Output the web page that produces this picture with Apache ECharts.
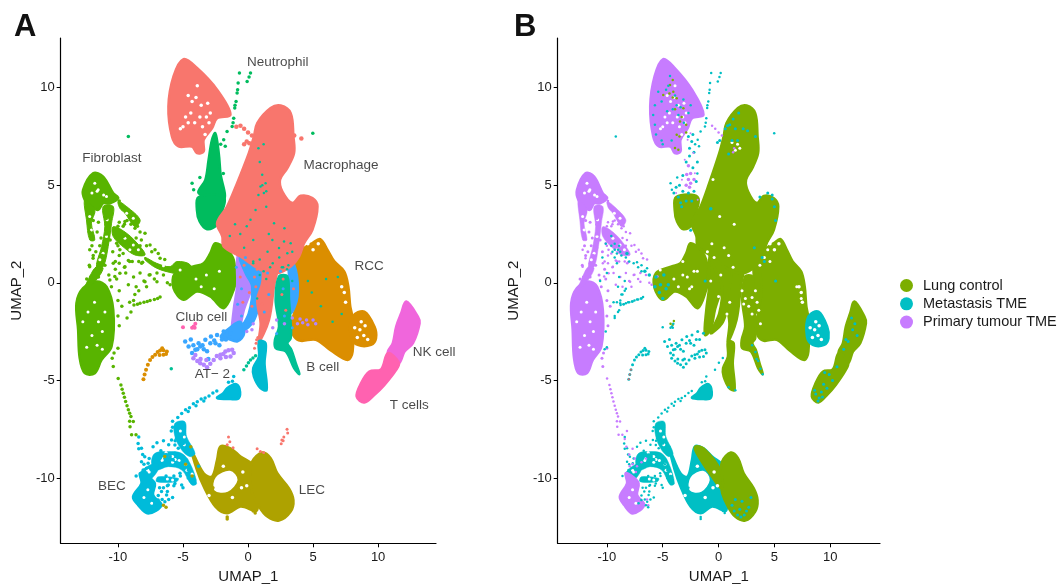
<!DOCTYPE html>
<html><head><meta charset="utf-8">
<script src="https://cdn.jsdelivr.net/npm/echarts@6/dist/echarts.min.js"></script>
<style>html,body{margin:0;background:#fff}#c{width:1064px;height:585px}</style></head>
<body><div id="c"></div>
<script>
// ---- tick labels, names
const tickX=[-10,-5,0,5,10];
const tickY=[-10,-5,0,5,10];
const groupNames=['Lung control','Metastasis TME','Primary tumour TME'];
const clusterLabels=[['Neutrophil',2.28,11.28],['Macrophage',7.14,6.05],['Fibroblast',-10.46,6.41],['RCC',9.3,.87],['Club cell',-3.59,-1.79],['AT− 2',-2.74,-4.67],['B cell',5.75,-4.31],['NK cell',14.3,-3.54],['T cells',12.39,-6.26],['BEC',-10.46,-10.41],['LEC',4.9,-10.62]];
// ---- dense cluster outlines (UMAP units)
const lobe=[[-4.96,11.47],[-3.92,11.01],[-2.38,9.9],[-1.35,8.62],[-2.38,8.44],[-2.76,7.93],[-3.41,7.33],[-3.41,6.73],[-3.92,6.65],[-4.31,6.99],[-5.34,6.99],[-5.85,7.5],[-6.12,9.04],[-5.73,10.58]];
const macro=[[2.51,9.09],[3.28,8.7],[3.49,7.5],[3.54,6.65],[3.02,5.88],[2.46,5.28],[2.64,4.68],[3.41,4.09],[4.05,4.46],[4.95,4.34],[5.34,3.91],[4.95,2.72],[4.31,2.03],[3.92,1.35],[3.28,.84],[2.25,.5],[.96,.67],[-.58,1.35],[-1.87,1.86],[-1.98,2.38],[-2.38,3.06],[-1.61,3.91],[-.84,5.11],[.06,6.65],[.45,7.5],[.71,8.19],[1.74,8.96]];
const neutroUpper=[[-2.51,7.67],[-2.25,6.65],[-2.12,5.62],[-1.87,4.26],[-3.8,4.6],[-3.28,5.28],[-3.03,6.31],[-2.77,7.33]];
const neutroLower=[[-1.87,4.4],[-2.12,3.4],[-2.38,2.97],[-3.15,2.75],[-3.72,3.15],[-3.93,3.74],[-3.8,4.4]];
const fibroHead=[[-12.68,4.76],[-11.91,5.62],[-11.14,5.45],[-10.36,4.59],[-9.98,4.34],[-10.62,4.08],[-11.14,4.08],[-11.52,3.74],[-12.04,3.91],[-12.55,4.25]];
const fibroLeftCol=[[-12.55,4.25],[-11.78,3.74],[-12.04,3.06],[-11.78,2.2],[-12.17,2.2],[-12.42,3.23]];
const fibroCenterCol=[[-11.14,3.91],[-10.36,3.91],[-10.49,3.06],[-10.75,1.86],[-11.14,.83],[-11.65,.83],[-11.26,1.86],[-11.01,2.88]];
const fibroRightStrand=[[-9.98,4.17],[-9.33,3.91],[-8.3,3.23],[-8.69,2.88],[-9.46,3.57],[-9.85,3.82]];
const fibroDiagonal=[[-10.36,2.88],[-9.33,2.54],[-8.3,1.86],[-7.92,1.43],[-8.69,1.43],[-9.46,1.77],[-10.36,2.37]];
const fibroLink=[[-7.92,1.31],[-7.02,1],[-5.99,.83],[-5.47,1.09],[-4.44,.92],[-4.44,.32],[-5.73,.49],[-7.02,.75],[-7.92,1.18]];
const fibroLower=[[-11.65,.83],[-11.14,.75],[-11.78,.06],[-12.55,-.33],[-12.17,.32]];
const fibroBody=[[-13.19,-1.04],[-12.68,-.27],[-11.65,.07],[-10.88,-.19],[-10.36,-1.38],[-10.49,-3.26],[-11.26,-3.95],[-11.78,-4.63],[-12.55,-4.63],[-12.94,-3.86],[-13.06,-2.41]];
const fibroMid=[[-2.51,2.03],[-1.61,1.69],[-1.1,1.18],[-.97,.15],[-1.1,-.36],[-1.87,-1.3],[-2.9,-.7],[-3.93,-.44],[-4.96,-.87],[-5.73,-.27],[-5.6,.5],[-4.2,.84],[-3.41,1.01],[-2.9,1.52]];
const rcc=[[5.55,2.24],[6.11,1.69],[6.63,1.1],[7.4,.58],[7.71,-.19],[7.86,-1.21],[8.04,-1.81],[8.04,-3.52],[7.66,-3.95],[6.37,-3.47],[5.21,-2.92],[4.05,-2.97],[3.54,-2.75],[3.3,-2.2],[3.7,-1.2],[3.75,-.7],[3.54,.15],[3.54,1.35],[4.31,1.78],[4.95,2.04]];
const rccLobe=[[8.04,-1.73],[8.94,-1.47],[9.72,-2.24],[9.84,-2.84],[9.46,-3.18],[8.43,-3.18],[7.91,-2.75]];
const purpleCol=[[-.71,1.6],[.32,1.6],[.45,.15],[-.32,-1.38],[-.71,-2.41],[-1.22,-2.67],[-1.1,-1.38],[-.84,-.19]];
const blueCol=[[-.58,1.35],[1.09,1.01],[1.35,-.19],[.84,-1.21],[.32,-2.07],[-.71,-2.58],[.06,-1.56],[.32,-.19],[-.19,.5]];
const blueCol2=[[3.02,1.52],[3.67,.67],[3.8,-.7],[3.28,-1.56],[3.02,-.53],[3.15,.32]];
const blueFoot=[[-.6,-2],[-.3,-2.6],[-.8,-3],[-1.6,-2.85],[-2.1,-2.75],[-1.4,-2.3]];
const salmonPillar=[[1.35,1.52],[2.25,1.01],[1.99,-.19],[1.61,-1.9],[.84,-3.01],[.97,-2.07],[.71,-.87],[1.09,-.02]];
const cyanPillar=[[.84,-3.01],[1.35,-3.09],[1.27,-4.12],[1.43,-5.49],[.96,-5.4],[.45,-4.8],[.4,-4.37],[.84,-3.78]];
const bCell=[[2.38,.32],[3.02,.32],[3.15,-.87],[3.28,-2.07],[3.28,-2.84],[3.02,-3.09],[3.33,-3.43],[3.67,-4.12],[3.95,-4.68],[3.54,-4.37],[2.9,-3.52],[2.12,-3.35],[2.07,-2.92],[2.38,-2.24],[2.12,-.87]];
const nkCell=[[12.16,-.96],[13.06,-1.73],[13.19,-2.07],[12.68,-3.09],[12.03,-3.52],[11.6,-4.1],[10.75,-3.6],[11.13,-3.09],[11.39,-2.24],[11.78,-1.55]];
const tCell=[[11.6,-4.1],[11.39,-4.46],[10.49,-5.23],[9.72,-5.74],[8.94,-6.13],[8.35,-5.83],[8.69,-5.14],[9.33,-4.55],[10.23,-4.43],[10.75,-3.6]];
const lecRight=[[1.09,-8.7],[1.74,-8.99],[2.25,-9.76],[3.15,-10.53],[3.49,-11.13],[3.28,-11.72],[2.38,-12.18],[1.48,-11.98],[.84,-11.47],[.32,-10.78],[.19,-10.1],[.32,-9.16]];
const lecLeft=[[-2.12,-8.39],[-1.35,-8.48],[-.58,-8.9],[.45,-9.42],[.71,-11.64],[-.58,-11.47],[-1.61,-11.81],[-2.51,-11.47],[-3.41,-10.44],[-3.93,-9.59],[-4.31,-8.65],[-3.41,-9.76],[-2.77,-9.93],[-2.38,-9.07]];
const lecHole=[[-2.4,-10],[-1.4,-9.7],[-.9,-10.1],[-1.6,-10.65],[-2.5,-10.6]];
const lecStrip=[[-2.1,-8.4],[-1.34,-8.49],[.16,-9.6],[.3,-10.53],[-.6,-9.93],[-1.95,-8.74]];
const becBlob=[[-8.84,-10.96],[-8.19,-10.28],[-8.32,-9.76],[-7.68,-9.94],[-7.16,-10.28],[-7.29,-10.88],[-6.65,-11.39],[-7.68,-11.82],[-8.45,-11.39]];
const becTopArm=[[-5.62,-7.2],[-4.85,-7.12],[-4.72,-7.88],[-4.07,-8.74],[-4.46,-8.91],[-5.1,-8.57],[-5.62,-7.88]];
const becMidBand=[[-7.16,-8.74],[-6.13,-8.65],[-5.1,-8.74],[-4.46,-9.25],[-3.95,-10.28],[-4.33,-10.36],[-5.1,-9.59],[-6.13,-9.42],[-7.03,-9.59],[-7.42,-9.25]];
const becLeftDiag=[[-8.32,-9.76],[-7.16,-9.25],[-6.91,-9.59],[-7.94,-10.28]];
const becInner=[[-6.91,-9.94],[-5.36,-10.02],[-5.49,-10.19],[-7.03,-10.19]];
const becTip=[[-1.61,-5.4],[-.97,-5.18],[-.66,-5.4],[-.71,-5.91],[-1.35,-5.96],[-2.38,-5.9],[-1.9,-5.65]];
// ---- loose points
const fibroNetLeft=[[-11.9,3.2],[-12.2,2.6],[-11.3,2.3],[-11.5,3.1],[-10.9,3],[-10.9,2.5],[-10.6,2.2],[-10.9,1.8],[-10.4,1.6],[-11.7,1.6],[-12,1.9],[-11.9,1.4],[-12.2,.9],[-11.5,1],[-11,.9],[-10.2,.7],[-11.8,.6],[-12.1,.3],[-11.5,.3],[-10.7,.4],[-10.1,.2],[-9.9,-.4],[-10.5,-.2],[-12,2.3],[-11.6,2.6],[-11.2,1.4],[-12.4,.2],[-10.9,3.3],[-11.4,1.9],[-10,-.9],[-9.7,-1.2],[-10,-1.7],[-9.9,-2.2],[-10.3,-3.6],[-10,-3.35],[-10.44,-3.86],[-10.36,-4.29]];
const fibroNetRight=[[-9.9,4.2],[-9.3,3.2],[-9,3.0],[-8.5,2.9],[-8.3,2.6],[-8.6,2.3],[-8.2,2.2],[-7.8,1.9],[-10,2.9],[-9.6,2.9],[-10,1.9],[-9.9,3.1],[-9.5,3],[-9.6,1.5],[-9.1,1.1],[-8.3,1.9],[-9.5,.8],[-9.4,.5],[-8.8,.3],[-8.3,.5],[-8,.1],[-7.6,.4],[-7,.5],[-6.5,.4],[-8.6,-.2],[-9.2,-.1],[-9.2,1.15],[-8.9,1.1],[-8.4,1.1],[-7.4,1.6],[-6.9,1.5],[-6.4,1.2],[-7.2,.2],[-9.9,1.4],[-10.2,1.1],[-9.9,1],[-7.8,-.2],[-6.2,0],[-8.1,1.05]];
const fibroNetMore=[[-12.17,1.69],[-11.91,1.26],[-12.17,.83],[-10.1,2.03],[-9.85,1.69],[-9.59,2.37],[-9.46,3.14],[-8.69,2.8],[-7.92,2.54],[-7.53,1.94],[-7.15,1.69],[-6.76,1.26],[-10.36,1],[-9.46,.83],[-8.18,1],[-10.62,.15],[-9.85,.49],[-10.24,.32],[-7.92,.06],[-7,.06],[-7.53,.41],[-5.99,-.1],[-5.47,.32]];
const fibroTail=[[-9.98,-4.9],[-9.77,-5.23],[-9.68,-5.45],[-9.59,-5.66],[-9.5,-5.87],[-9.41,-6.08],[-9.3,-6.3],[-9.2,-6.51],[-9.1,-6.68],[-9,-6.85],[-8.82,-7.11],[-9.07,-7.37],[-8.95,-7.79],[-8.61,-7.79],[-9.1,-7.1]];
const fibroStrand=[[-8.77,-1.13],[-8.5,-1.1],[-8.3,-1.04],[-8,-1],[-7.75,-.95],[-7.53,-.9],[-7.2,-.85],[-6.95,-.8],[-6.76,-.73],[-8.7,-.6],[-8.4,-.4],[-9.1,-1],[-9,-1.5],[-9.3,-1.8],[-8.8,-.9]];
const neutroStrand=[[-.66,10.75],[-.76,10.24],[-.84,9.73],[-.92,9.3],[-1.02,8.96],[-1.1,8.44],[-1.22,8.02],[-1.61,7.76],[-1.87,7.33],[-.07,10.32],[.19,10.75],[.08,10.55],[-9.2,7.5],[4.98,7.67],[-4.18,4.77],[-4.3,5.1],[-3.7,5.4],[-1.9,5.6],[-1.75,7],[-2.1,7.1],[-.8,9.9],[-1,9.1],[-1.15,8.2]];
const macroSpurs=[[-.58,8.05],[-.3,7.9],[0,7.7],[.3,7.55],[-.3,7.1],[-.1,7.25],[.1,7.15],[-.9,8],[4.1,7.4],[3.55,7.55]];
const orangeArc=[[-8.04,-4.94],[-7.95,-4.7],[-7.84,-4.46],[-7.7,-4.2],[-7.53,-3.95],[-7.35,-3.8],[-7.14,-3.69],[-6.95,-3.55],[-6.76,-3.47],[-6.5,-3.45],[-6.24,-3.52],[-6.5,-3.69],[-6.8,-3.7],[-6.3,-3.65],[-6.6,-3.35]];
const clubCell=[[-4.18,-2.24],[-4.05,-2.1],[-4.3,-2.3],[-5,-2.27],[-4.1,-2.3]];
const blueLoose=[[-4.83,-3.01],[-4.57,-3.26],[-4.05,-3.43],[-3.67,-3.26],[-3.28,-2.92],[-2.9,-3.09],[-2.38,-2.67],[-1.87,-2.5],[-1.35,-2.58],[-3.15,-3.5],[-3.8,-3.1],[-4.3,-3.6],[-3.5,-3.2],[-2.6,-2.95],[-3.05,-3.9],[-2.2,-3.2],[-4.4,-2.9],[-1.7,-2.9],[-2.85,-2.75],[-4.2,-3.2],[-3.9,-3.4],[-3.4,-3.4],[-2.5,-3.1],[-2,-2.9]];
const purpleLoose=[[-4.2,-3.86],[-3.67,-4.12],[-3.15,-4.32],[-2.64,-3.95],[-2.12,-3.86],[-1.74,-3.52],[-1.22,-3.43],[-1.35,-3.78],[-2.12,-3.69],[-3.9,-4],[-3.4,-4.2],[-2.9,-4.15],[-2.4,-3.75],[-1.9,-3.65],[-1.5,-3.45],[-4.05,-3.7],[-3.2,-3.95],[-3.65,-3.9],[-1.1,-3.6],[-1.7,-3.8]];
const purpleBand=[[3.8,-2.1],[4.2,-2.05],[4.6,-2.15],[5,-1.9],[5.2,-2.1],[2.2,-1.9],[2.8,-2.1],[1.9,-2.3],[.3,-2.4],[-.1,-2.5],[.4,-2.1],[3.4,-1.8],[4,-1.85],[4.5,-1.9]];
const bCellBranch=[[.58,-3.74],[.38,-3.85],[.19,-3.95],[.03,-4.1],[-.12,-4.26],[-.32,-4.46],[-5.9,-4.4]];
const salmonLoose=[[.66,-2.92],[.5,-3.35],[.62,-3.1],[.75,-2.8],[-6,-8.9],[-1.5,-7.9],[-1.4,-8.15],[-1.15,-8.45],[-1.6,-8.3],[3,-7.5],[3.05,-7.7],[2.75,-7.9],[2.6,-8.05],[2.55,-8.25],[1.2,-8.7],[.7,-8.5],[.95,-8.65],[2.7,-8.1]];
const becNet=[[-5.3,-7.2],[-5.9,-7.6],[-6.1,-8.3],[-6.3,-8.8],[-6.7,-8.6],[-5.7,-9.9],[-6.3,-9.9],[-6.8,-10.5],[-5.2,-9.9],[-4.6,-10],[-4.1,-10.1],[-3.8,-9.4],[-6.5,-10.5],[-6.2,-10.4],[-5.7,-10.4],[-5,-10.5],[-6.1,-11.1],[-6.2,-10.7],[-5.8,-11],[-6.5,-8.1],[-7,-8.2],[-7.3,-8.4],[-7.6,-9],[-8,-9.3],[-8.4,-8.5],[-8.1,-8.8],[-8.4,-7.9],[-7.8,-9.5],[-8.6,-9.9],[-5.6,-8.1],[-5.8,-7.1],[-6.9,-10.9],[-6.6,-11.1]];
const becNetMore=[[-6.65,-8.74],[-6.39,-9],[-6,-8.91],[-6.91,-9.08],[-6.52,-9.25],[-7.03,-9.34],[-6.13,-9.17],[-5.75,-9.08],[-5.62,-8.74],[-5.36,-8.48],[-5.62,-8.31],[-5.23,-8.14],[-5.49,-7.97],[-5.88,-8.06],[-4.98,-8.23],[-4.72,-9.08],[-4.59,-9.59],[-4.98,-9.25],[-5.23,-9.76],[-5.62,-10.28],[-5.1,-10.36],[-6.13,-10.36],[-6.65,-10.7],[-6.26,-10.88],[-6.91,-11.13],[-6.39,-11.22],[-7.16,-11.3],[-4.2,-9.94],[-5.36,-9.25],[-7.68,-9.25],[-8.06,-9.59],[-7.94,-8.91],[-8.19,-8.48],[-8.45,-8.23],[-8.19,-9.17]];
const becStrand=[[-5.4,-6.9],[-5.1,-6.7],[-4.8,-6.5],[-4.5,-6.4],[-4.2,-6.2],[-3.9,-6.1],[-3.6,-5.95],[-3.3,-5.9],[-3,-5.8],[-2.7,-5.65],[-2.4,-5.55],[-4.6,-6.6],[-4,-6.3],[-3.4,-6.05],[-1.5,-5.1],[-1.2,-5.05],[-5.8,-7.4],[-1.1,-4.8]];
const lecLoose=[[-1.6,-12],[-1.6,-12.1],[-4.4,-8.4],[-4.1,-9],[-2.7,-10.5],[-2.9,-10.2],[-4.8,-9.3],[-4.3,-9.9],[-6.5,-11.4],[-6.3,-11.5],[-6.4,-8.9],[.55,-11.8],[.4,-11.7]];
const macroSpecks=[[.96,4.94],[1.35,5.1],[1.22,4.6],[.58,3.74],[2,3.06],[1.09,5.54],[2.77,2.12],[2.38,1.78],[1.87,2.2],[3.28,2.03],[3.02,1.52],[.19,3.23],[.8,6.9],[1.2,7.1],[.9,6.2],[-.1,2.9],[-.6,2.5],[1.4,3.9],[.4,2.2],[-1,3],[-1.4,2.4],[2.4,1.3],[1.5,1.6],[.9,1.2],[2.8,2.8],[1.6,2.5],[-.3,1.8],[3.4,1.6],[1.1,5],[1.4,4.7],[.8,4.5],[1.9,1],[2.6,.8],[.4,1],[1.2,.6],[3,.7]];
const mixSalmon=[[-.3,.9],[.5,.3],[.1,-.5],[.7,.7],[-.6,.3],[.3,-1.2],[2.7,.2],[2.6,-.6],[2.9,-1.4],[3.3,.9],[3.5,-.3],[1.1,-1.1],[.6,-.2],[-.4,-1]];
const mixBlue=[[-.5,-.3],[-.9,.8],[-.1,.7],[-.8,-1.1],[-.5,-1.7],[-.2,1.3],[1.5,.5],[1.6,-.6],[1.25,-1.5],[2.8,-1.7],[2.5,.6],[2.2,-2.6],[2.7,-.3],[3.4,-2.3]];
const mixTeal=[[.9,.4],[.4,1.1],[2.7,.8],[3.1,.9],[3.4,.1],[1.4,.2],[1.7,.8],[.7,-.8]];
const rccSpecks=[[6,.2],[6.5,-2],[6.9,.3],[4.9,-.5],[5.6,-1.2],[7.2,-1.6],[4.6,.1]];
const lobeGaps=[[-5.2,7.9],[-5,8],[-4.6,8.2],[-4.4,8.7],[-4.1,8.2],[-3.7,8.5],[-3.5,8],[-3.3,7.6],[-4.3,9.3],[-4,9.5],[-3.6,9.1],[-4.6,9.6],[-3.9,10.1],[-3.1,9.2],[-2.9,8.7],[-3,8.2],[-4.8,8.5],[-3.2,8.5]];
const bodyGaps=[[-12.3,-1.5],[-11.8,-1],[-11.5,-2],[-12,-2.7],[-11.2,-2.5],[-11.6,-3.2],[-12.4,-3.3],[-11,-1.5],[-12.7,-2],[-11.2,-3.4],[-11.6,4.7],[-11.1,4.5],[-12,4.6],[-4,.2],[-3.2,.4],[-2.6,-.3],[-3.6,-.2],[-2.2,.6]];
const rccGaps=[[8.6,-2.4],[8.9,-2.7],[8.4,-2.8],[9,-2.2],[8.7,-2],[7.4,-.5],[7.2,-.2],[7.5,-1],[4.6,2],[5.4,2],[5,1.7],[9.2,-2.9],[8.2,-2.3],[-.5,-10.5],[-1.2,-11],[-3,-10.9],[-1.9,-9.4],[-.4,-9.7],[-.1,-10.4]];
const becGaps=[[-7.7,-10.6],[-8,-11],[-7.4,-11.3],[-5.8,-8.9],[-6.5,-9],[-6.3,-8.7],[-5.3,-9.1],[-4.7,-9.6],[-4.9,-7.9],[-7.7,-9.6]];
const strandGaps=[[-10.83,3.23],[-10.88,2.37],[-11.14,1.52],[-11.39,1.18],[-9.46,2.29],[-8.82,1.94],[-9.08,1.69],[-8.43,1.69],[-9.33,3.57],[-8.82,3.31],[-12.04,2.71],[-12.17,3.4],[-11.52,4.77],[-10.88,4.42],[-11.78,5.11],[-6.5,.87],[-5.22,.66],[-6.6,-9.1],[-5.8,-9.2],[-5.6,-9.05],[-4.8,-9.3],[-4.3,-9.8],[-6.2,-10.05],[-5.8,-10.1],[-5.2,-7.6],[-4.9,-8.3],[-7.6,-9.7]];
const lungGaps=[[2.1,-.4],[2.25,-1.09],[3,-.75],[3.45,-1],[3,-1.6],[3.75,-2.1],[1.95,-1.85],[.75,-1.6],[2.4,-.8],[3.3,-.4],[3.6,-1.4],[2.7,-1.2],[1,-1],[.2,.4],[1.3,.8],[.5,1.8],[-.6,2],[-.4,1.3],[.9,1.4],[-1,1.6],[4.1,1.3],[4.4,1.7],[4.6,1.1],[3.7,.9],[1.2,7.2],[1.7,7.1],[1.5,6.8],[1.9,6.9],[-3.2,1.1],[-2.8,.3],[-1.9,.6],[-2.4,-.2],[-.5,5.3],[.1,3.4],[1.4,3],[-.7,.1],[0,-.7],[7,-.2],[7.4,-.8]];
const lobeTeal=[[-5.7,9.1],[-5.85,8.6],[-5.6,7.6],[-5.1,7.3],[-5.7,8.1],[-3.75,9.1],[-3.15,9.4],[-4.5,10.1],[-4.35,10.6],[-5.1,9.3],[-3.4,9],[-3.6,8.6],[-2.5,9.1],[-2.7,8.7],[-4.1,8.9],[-4.7,9.9],[-5.4,9.8],[-4.2,7.3],[-5,7.1],[-3.1,8.2],[-4.6,8.8],[-3.9,9.6]];
const lobeGreen=[[-4.35,10.14],[-4.05,9.8],[-3.75,9.46],[-3.15,8.95],[-3.45,8.27],[-3.75,7.59],[-3.9,6.91],[-3.6,6.82],[-4.95,9.63],[-4.1,9.5],[-3.9,8.9],[-3.3,8.5],[-2.9,8.1],[-3.5,7.5],[-4.1,10.4],[-4.4,9.7],[-2.9,7.7]];
const neutroTeal=[[-2.4,7.25],[-2.6,6.9],[-2.2,6.7],[-2.6,6.5],[-2.9,6.2],[-2.3,5.9],[-3.8,4.9],[-3.5,5],[-4,4.6],[-3.6,4.4],[-3.2,4.7],[-2.7,4.6],[-2.2,4.7],[-3.4,4.1],[-2.9,4.2],[-2.4,4.2],[-2,5.2],[-3.2,5.5],[-2.7,7.5],[-2.3,7.6],[-1.9,6.2],[-3.3,3.9]];
const neutroPurple=[[-2.85,5.55],[-2.7,5.3],[-2.5,5.6],[-2.9,5],[-2.5,5.1],[-2.7,6],[-2.2,5.3],[-2.6,4.9]];
const midTeal=[[-5.6,.3],[-5.2,-.1],[-4.9,.4],[-5.3,-.5],[-4.7,-.3],[-5,-.8],[-4.5,-.1],[-5.7,-.2],[-6.6,.6],[-6.2,.4],[-8.2,1.5],[-.7,3.8]];
const fibroTeal=[[-9.6,1.9],[-9.5,1.6],[-9.3,1.3],[-9,1.7],[-8.7,1.4],[-8.9,1.9],[-9.1,1],[-9.6,2.4],[-10.1,2],[-10.4,1.3],[-8.3,1.3],[-8,1.1],[-7.6,1],[-7.2,.8],[-6.9,.6],[-8.9,.3],[-8.4,.1],[-9,-.2],[-8.3,-.3],[-8.6,-.6],[-8.8,-1.05],[-8.5,-1.1],[-8.1,-1],[-7.7,-.95],[-7.3,-.85],[-6.9,-.8],[-9.4,-1],[-9.3,-1.7],[-8.9,-1.4],[-10.1,-2.5],[-10.2,-3.4],[-10,-3.3],[-10.6,.1],[-10,.5],[-7.3,1.05],[-6.9,.9],[-6.4,.75],[-9.3,2],[-9.1,1.5],[-8.8,1.6],[-9.3,1.7]];
const tnkTeal=[[12,-2.4],[11.6,-3],[12.2,-2.1],[11.4,-2.9],[11.2,-3.4],[10.6,-4.3],[10.2,-5],[9.7,-5.4],[9.4,-5.2],[9.2,-5.6],[8.7,-5.7],[9,-5.9],[8.6,-5.5],[9.9,-4.7],[9.5,-4.6],[11.9,-1.8],[12.4,-2.7],[8.9,-6.05],[9.3,-5.85]];
const lecTeal=[[1.5,-11.1],[1.9,-11.6],[2.3,-11.9],[2.7,-11.5],[1.7,-11.9],[2.1,-11.2],[2.9,-11],[1.2,-11.4],[2.5,-11.7],[1.4,-11.7],[2,-12]];
const topTeal=[[1,8.1],[1.3,8.4],[1.8,8.7],[1.5,7.9],[2.2,7.9],[2.6,7.8],[3.3,7.5],[1.2,7.3],[1.7,7.3],[.9,6.6],[.6,7.9],[.8,8.05],[.1,7.3],[-.1,7.2],[3.7,4.4],[4.4,4.6],[4.8,4.3],[5,3.9],[5.1,3.2],[4.8,4.5],[3.9,1.3],[4.1,1.1],[-2.5,2.7],[3.2,1.8],[5.1,.1],[-1.2,.1]];
const topPurple=[[-.58,8.05],[-.3,7.9],[0,7.7],[.3,7.55],[1.4,6.9],[1.3,6.7]];
const bCellEdge=[[3,-3.2],[3.3,-3.55],[3.55,-4],[3.75,-4.4],[3.95,-4.68],[3.4,-3.9],[.38,-3.85],[.03,-4.1],[-.32,-4.46],[1.5,-5.5],[.9,-5.35]];
const arcRed=[[-8.04,-4.94],[-7.95,-4.7],[-7.84,-4.46]];
const midGreen=[[-4.1,-2.15],[-4,-1.95],[-4.3,-2.1]];
const becPurpleLoose=[[-7.7,-8.5],[-7.5,-9],[-7.3,-9.4],[-7.7,-9.3],[-7.4,-9.7],[-6.9,-9.2],[-6.5,-9],[-8.2,-7.6],[-8.4,-8],[-8,-8.8],[-7.8,-10],[-6.4,-11.1],[-6.3,-11.4],[-8.25,-8.4],[-7.95,-9.4],[-7.8,-9.9]];
// ---- colours
const A={salmon:'#F8766D',fibro:'#58B400',neutro:'#00BC5E',rcc:'#DB8E00',lec:'#AEA200',bec:'#00BBDA',teal:'#00C094',blue:'#39A6FF',purple:'#B385FF',nk:'#F066DC',t:'#FF62B0',cyan:'#00BAD0'};
const B={g:'#7CAE00',t:'#00BFC4',p:'#C77CFF'};
const ink='#1a1a1a';
function poly(i,name,pts,color,lw=2.5){return{type:'custom',name,xAxisIndex:i,yAxisIndex:i,data:pts,encode:{x:0,y:1},silent:true,animation:false,itemStyle:{color},
 renderItem:(p,api)=>p.dataIndex===0?{type:'polygon',shape:{points:pts.map(q=>api.coord(q)),smooth:.35},style:{fill:color,stroke:color,lineWidth:lw,lineJoin:'round'}}:null};}
function dots(i,name,pts,color,size){return{type:'scatter',name,xAxisIndex:i,yAxisIndex:i,data:pts,symbolSize:size,itemStyle:{color,opacity:1},silent:true,animation:false};}
const fibroThin=[fibroLeftCol,fibroCenterCol,fibroRightStrand,fibroDiagonal,fibroLower];
const becThin=[becTopArm,becMidBand,becLeftDiag,becInner];
const seriesA=[
 poly(0,'a',lobe,A.salmon),poly(0,'a',neutroUpper,A.neutro),poly(0,'a',neutroLower,A.neutro),
 poly(0,'a',fibroHead,A.fibro),poly(0,'a',fibroBody,A.fibro),poly(0,'a',fibroMid,A.fibro),poly(0,'a',fibroLink,A.fibro,1),
 ...fibroThin.map(o=>poly(0,'a',o,A.fibro,1)),
 poly(0,'a',rcc,A.rcc),poly(0,'a',rccLobe,A.rcc),poly(0,'a',purpleCol,A.purple),poly(0,'a',blueCol,A.blue),poly(0,'a',blueFoot,A.blue),poly(0,'a',blueCol2,A.blue),poly(0,'a',salmonPillar,A.salmon),poly(0,'a',bCell,A.teal),poly(0,'a',cyanPillar,A.cyan),
 poly(0,'a',macro,A.salmon),poly(0,'a',nkCell,A.nk),poly(0,'a',tCell,A.t),poly(0,'a',lecLeft,A.lec),poly(0,'a',lecRight,A.lec),poly(0,'a',lecHole,'#fff'),
 poly(0,'a',becBlob,A.bec),poly(0,'a',becTip,A.bec),...becThin.map(o=>poly(0,'a',o,A.bec,.5)),
 dots(0,'a',lobeGaps,'#fff',3.5),dots(0,'a',bodyGaps,'#fff',3),dots(0,'a',rccGaps,'#fff',3.5),dots(0,'a',becGaps,'#fff',3),dots(0,'a',strandGaps,'#fff',3),
 dots(0,'a',fibroNetLeft,A.fibro,3.5),dots(0,'a',fibroNetRight,A.fibro,3.5),dots(0,'a',fibroNetMore,A.fibro,3.5),dots(0,'a',fibroTail,A.fibro,3.5),dots(0,'a',fibroStrand,A.fibro,3.5),
 dots(0,'a',neutroStrand,A.neutro,3.5),dots(0,'a',macroSpurs,A.salmon,4.5),dots(0,'a',orangeArc,A.rcc,4),dots(0,'a',clubCell,A.t,4),
 dots(0,'a',blueLoose,A.blue,4.5),dots(0,'a',purpleLoose,A.purple,4.5),dots(0,'a',purpleBand,A.purple,3.5),dots(0,'a',bCellBranch,A.teal,3.5),dots(0,'a',salmonLoose,A.salmon,3),
 dots(0,'a',becNet,A.bec,3.5),dots(0,'a',becNetMore,A.bec,3.5),dots(0,'a',becStrand,A.bec,3.5),dots(0,'a',lecLoose,A.lec,3.5),dots(0,'a',macroSpecks,A.teal,2.5),dots(0,'a',rccSpecks,A.teal,2.5),
 dots(0,'a',mixSalmon,A.salmon,3),dots(0,'a',mixBlue,A.blue,3),dots(0,'a',mixTeal,A.teal,2.5),
 {type:'scatter',xAxisIndex:0,yAxisIndex:0,symbolSize:0,silent:true,animation:false,data:clusterLabels.map(l=>({name:l[0],value:[l[1],l[2]]})),
  label:{show:true,position:'inside',formatter:'{b}',color:ink,fontFamily:'Liberation Sans',fontSize:13.5}}
];
const G=groupNames[0],M=groupNames[1],P=groupNames[2];
const seriesB=[
 poly(1,P,lobe,B.p),poly(1,G,neutroLower,B.g),poly(1,P,fibroHead,B.p),poly(1,P,fibroBody,B.p),
 ...fibroThin.map(o=>poly(1,P,o,B.p,.5)),
 poly(1,G,fibroMid,B.g),
 poly(1,G,rcc,B.g),poly(1,M,rccLobe,B.t),poly(1,G,purpleCol,B.g),poly(1,G,blueCol,B.g),poly(1,G,blueCol2,B.g),poly(1,G,salmonPillar,B.g),poly(1,G,bCell,B.g),poly(1,G,cyanPillar,B.g),
 poly(1,G,macro,B.g),poly(1,G,nkCell,B.g),poly(1,G,tCell,B.g),poly(1,M,lecLeft,B.t),poly(1,'x',lecHole,'#fff'),poly(1,G,lecRight,B.g),poly(1,G,lecStrip,B.g),
 ...becThin.map(o=>poly(1,M,o,B.t,.5)),poly(1,M,becTip,B.t),poly(1,P,becBlob,B.p),
 dots(1,'x',lobeGaps,'#fff',3),dots(1,'x',bodyGaps,'#fff',3),dots(1,'x',rccGaps,'#fff',3.5),dots(1,'x',lungGaps,'#fff',3),dots(1,'x',becGaps,'#fff',3),dots(1,'x',strandGaps,'#fff',3),
 dots(1,G,lobeGreen,B.g,2.5),
 dots(1,M,lobeTeal,B.t,2.5),dots(1,P,neutroPurple,B.p,3.5),dots(1,M,neutroTeal,B.t,3),dots(1,M,neutroStrand,B.t,2.5),
 dots(1,P,neutroUpper,B.p,2),dots(1,P,fibroNetLeft,B.p,3),dots(1,P,fibroNetRight,B.p,2.5),dots(1,P,fibroNetMore,B.p,2.5),dots(1,M,fibroTeal,B.t,2.5),dots(1,P,fibroTail,B.p,2.5),dots(1,M,fibroStrand,B.t,2.5),
 dots(1,M,midTeal,B.t,3.5),dots(1,M,orangeArc,B.t,3),dots(1,'x',arcRed,'#E0606A',2),dots(1,G,midGreen,B.g,2.5),dots(1,M,clubCell,B.t,2.5),
 dots(1,M,blueLoose,B.t,3),dots(1,M,purpleLoose,B.t,3),dots(1,M,bCellEdge,B.t,2.5),dots(1,M,topTeal,B.t,3),dots(1,P,topPurple,B.p,2.5),
 dots(1,M,becNet,B.t,2.5),dots(1,M,becNetMore,B.t,2.5),dots(1,M,becStrand,B.t,2.5),dots(1,P,becPurpleLoose,B.p,2.5),dots(1,M,lecLoose,B.t,2.5),dots(1,M,tnkTeal,B.t,3),dots(1,M,lecTeal,B.t,3)
];
function xAxis(i){return{type:'value',gridIndex:i,min:-14.4,max:14.45,name:'UMAP_1',nameLocation:'middle',nameGap:21,nameTextStyle:{color:ink,fontFamily:'Liberation Sans',fontSize:15},
 splitLine:{show:false},axisLine:{onZero:false,lineStyle:{color:'#000',width:1.2}},axisTick:{length:4,lineStyle:{color:'#000'},customValues:tickX},axisLabel:{color:ink,fontFamily:'Liberation Sans',fontSize:13,customValues:tickX,margin:8}};}
function yAxis(i){return{type:'value',gridIndex:i,min:-13.35,max:12.55,name:'UMAP_2',nameLocation:'middle',nameGap:36,nameTextStyle:{color:ink,fontFamily:'Liberation Sans',fontSize:15},
 splitLine:{show:false},axisLine:{onZero:false,lineStyle:{color:'#000',width:1.2}},axisTick:{length:4,lineStyle:{color:'#000'},customValues:tickY},axisLabel:{color:ink,fontFamily:'Liberation Sans',fontSize:13,customValues:tickY,margin:6}};}
const chart=echarts.init(document.getElementById('c'),null,{renderer:'canvas'});
const titleStyle={fontFamily:'Liberation Sans',fontWeight:'bold',fontSize:31,color:'#111'};
chart.setOption({animation:false,backgroundColor:'#fff',
 title:[{text:'A',left:9,top:7,textStyle:titleStyle},{text:'B',left:509,top:7,textStyle:titleStyle}],
 grid:[{left:60.7,width:375.3,top:38,height:505.3,outerBoundsMode:'none'},{left:557.7,width:322.3,top:38,height:505.3,outerBoundsMode:'none'}],
 xAxis:[xAxis(0),xAxis(1)],yAxis:[yAxis(0),yAxis(1)],
 legend:{data:groupNames,orient:'vertical',left:895,top:273,itemWidth:13,itemHeight:13,itemGap:3.3,icon:'circle',selectedMode:false,textStyle:{fontFamily:'Liberation Sans',fontSize:14.5,color:ink,padding:[0,0,0,5]},formatter:'{name}'},
 series:seriesA.concat(seriesB)});
</script></body></html>
